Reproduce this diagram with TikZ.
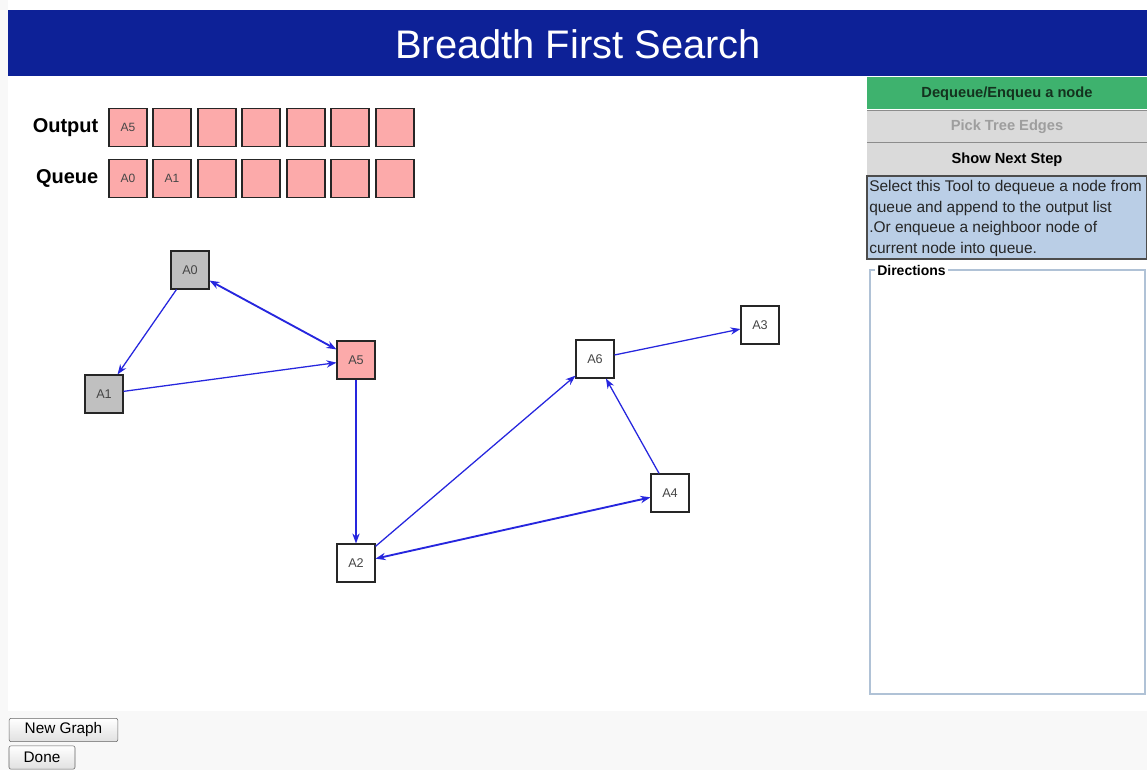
\documentclass[tikz,border=0pt]{standalone}
\usepackage{fontspec}
\setmainfont{Liberation Sans}
\usetikzlibrary{arrows.meta}
\definecolor{hdrblue}{RGB}{13,33,151}
\definecolor{btngreen}{RGB}{62,178,110}
\definecolor{btngrey}{RGB}{218,218,218}
\definecolor{cellpink}{RGB}{252,170,170}
\definecolor{nodegrey}{RGB}{192,192,192}
\definecolor{edgeblue}{RGB}{38,38,222}
\definecolor{infoblue}{RGB}{186,206,230}
\definecolor{pagebg}{RGB}{248,248,248}
\definecolor{fsborder}{RGB}{176,194,214}
\definecolor{lbltext}{RGB}{70,70,70}
\tikzset{
  cell/.style={draw=black!85, line width=0.8pt, fill=cellpink, minimum size=28.5pt, inner sep=0pt, font=\fontsize{9}{10}\selectfont, text=lbltext},
  gnode/.style={draw=black!85, line width=0.8pt, minimum size=28.5pt, inner sep=0pt, font=\fontsize{9.5}{10}\selectfont, text=lbltext},
  edge/.style={draw=edgeblue, line width=0.95pt, -{Stealth[length=7.5pt,width=5.5pt]}},
  dedge/.style={draw=edgeblue, line width=1.4pt, {Stealth[length=7.5pt,width=5.5pt]}-{Stealth[length=7.5pt,width=5.5pt]}},
  rowlbl/.style={anchor=east, font=\bfseries\fontsize{15}{16}\selectfont},
  panelbtn/.style={minimum width=210pt, minimum height=24pt, inner sep=0pt, font=\bfseries\fontsize{11}{12}\selectfont},
  webbtn/.style={draw={rgb,255:red,100;green,100;blue,100}, rounded corners=1.5pt, top color=white, bottom color=black!12, inner sep=0pt, minimum height=17.5pt, font=\fontsize{11.5}{13}\selectfont}
}
\begin{document}
\begin{tikzpicture}[x=0.75pt,y=-0.75pt]
\useasboundingbox (0,0) rectangle (1147,770);
\fill[pagebg] (0,0) rectangle (1147,770);
\fill[white] (8,0) rectangle (1147,711);
% header
\fill[hdrblue] (8,10) rectangle (1147,76);
\node[text=white, font=\fontsize{29.9}{32}\selectfont] (title) at (578,44) {Breadth First Search};
% right panel
\node[panelbtn, fill=btngreen, text={rgb,255:red,20;green,50;blue,30}, minimum width=210pt] (b1) at (1007,93.5) {Dequeue/Enqueu a node};
\node[panelbtn, fill=btngrey, text=black!38] (b2) at (1007,126.5) {Pick Tree Edges};
\node[panelbtn, fill=btngrey, text=black] (b3) at (1007,159.5) {Show Next Step};
\draw[black!45, line width=1pt] (867,110.5) -- (1147,110.5) (867,142.5) -- (1147,142.5);
\fill[infoblue] (867,176) rectangle (1147,259);
\draw[black!70, line width=1.2pt] (867,176) rectangle (1147,259);
\node[anchor=north west, align=left, inner sep=0pt, font=\fontsize{11.6}{15.4}\selectfont, text=black!85] (info) at (869,180)
  {Select this Tool to dequeue a node from\\queue and append to the output list\\.Or enqueue a neighboor node of\\current node into queue.};
\draw[fsborder, line width=0.8pt] (870,270) rectangle (1145,694);
\node[anchor=west, fill=white, inner sep=1.5pt, font=\bfseries\fontsize{10.5}{12}\selectfont] (dir) at (875,270) {Directions};
% output / queue
\node[rowlbl] (outl) at (103,127.5) {Output};
\node[rowlbl] (quel) at (103,178.5) {Queue};
\foreach \i/\x in {1/128,2/172,3/217,4/261,5/306,6/350,7/395}{
  \node[cell] (o\i) at (\x,127.5) {};
  \node[cell] (q\i) at (\x,178.5) {};
}
\node[font=\fontsize{9}{10}\selectfont, text=lbltext] at (o1) {A5};
\node[font=\fontsize{9}{10}\selectfont, text=lbltext] at (q1) {A0};
\node[font=\fontsize{9}{10}\selectfont, text=lbltext] at (q2) {A1};
% graph
\node[gnode, fill=nodegrey] (A0) at (190,270) {A0};
\node[gnode, fill=nodegrey] (A1) at (104,394) {A1};
\node[gnode, fill=cellpink] (A5) at (356,360) {A5};
\node[gnode, fill=white] (A6) at (595,359) {A6};
\node[gnode, fill=white] (A3) at (760,325) {A3};
\node[gnode, fill=white] (A4) at (670,493) {A4};
\node[gnode, fill=white] (A2) at (356,563) {A2};
\draw[edge] (A0) -- (A1);
\draw[dedge] (A0) -- (A5);
\draw[edge] (A1) -- (A5);
\draw[edge] (A5) -- (A2);
\draw[edge] (A2) -- (A6);
\draw[dedge] (A2) -- (A4);
\draw[edge] (A4) -- (A6);
\draw[edge] (A6) -- (A3);
% bottom buttons
\node[webbtn, minimum width=81.5pt] (ng) at (63.5,730) {New Graph};
\node[webbtn, minimum width=49.5pt] (done) at (42,757.5) {Done};
\end{tikzpicture}
\end{document}
